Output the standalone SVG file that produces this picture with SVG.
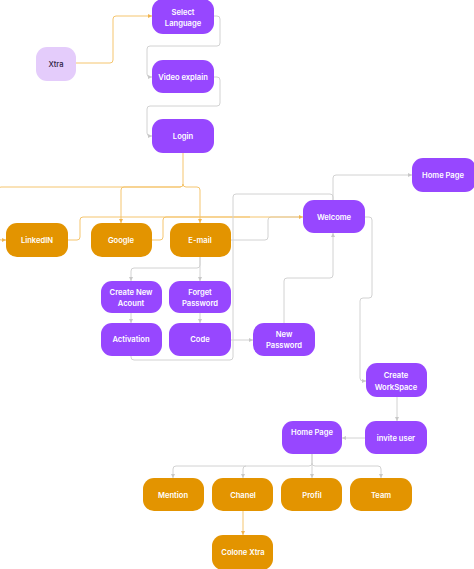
<svg xmlns="http://www.w3.org/2000/svg" width="474" height="569" viewBox="0 0 474 569">
<style>
.p{fill:#9747ff}
.o{fill:#e39400}
.l{fill:#e4ccfb}
.t{font-family:Inter,"Noto Sans",sans-serif;font-size:7.6px;font-weight:600;fill:#fff;text-anchor:middle;dominant-baseline:central}
.td{fill:#2a2040;font-weight:500}
.g{fill:none;stroke:#d2d2d2;stroke-width:1}
.y{fill:none;stroke:#f5c56e;stroke-width:1}
</style>
<defs>
<marker id="ag" markerWidth="5" markerHeight="5" refX="4" refY="2.5" orient="auto" markerUnits="userSpaceOnUse"><path d="M0,0.5 L4,2.5 L0,4.5z" fill="#c8c8c8"/></marker>
<marker id="ay" markerWidth="5" markerHeight="5" refX="4" refY="2.5" orient="auto" markerUnits="userSpaceOnUse"><path d="M0,0.5 L4,2.5 L0,4.5z" fill="#f0b450"/></marker>
</defs>
<rect width="474" height="569" fill="#fff"/>
<g id="connectors">
<path class="y" d="M76,63 H110 Q113,63 113,60 V19 Q113,16 116,16 H152" marker-end="url(#ay)"/>
<path class="g" d="M214,16 H217 Q220,16 220,19 V43 Q220,46 217,46 H150 Q147,46 147,49 V74 Q147,77 150,77 H152" marker-end="url(#ag)"/>
<path class="g" d="M214,77 H217 Q220,77 220,80 V103 Q220,106 217,106 H150 Q147,106 147,109 V133 Q147,136 150,136 H152" marker-end="url(#ag)"/>
<path class="y" d="M183,153 V184 Q183,187 180,187 H1 Q-3,187 -3,191 V236 Q-3,240 1,240 H6" marker-end="url(#ay)"/>
<path class="y" d="M183,184 Q183,187 180,187 H124 Q121,187 121,190 V223" marker-end="url(#ay)"/>
<path class="y" d="M183,184 Q183,187 186,187 H197 Q200,187 200,190 V223" marker-end="url(#ay)"/>
<path class="g" d="M231,240 H265 Q268,240 268,237 V220 Q268,217 271,217 H300"/>
<path class="y" d="M68,240 H77 Q80,240 80,237 V220 Q80,217 83,217 H303" marker-end="url(#ay)"/>
<path class="y" d="M152,240 H160 Q163,240 163,237 V220 Q163,217 166,217 H250"/>
<path class="g" d="M200,257 V265 Q200,268 197,268 H134 Q131,268 131,271 V281" marker-end="url(#ag)"/>
<path class="g" d="M200,257 V281" marker-end="url(#ag)"/>
<path class="g" d="M131,313 V323" marker-end="url(#ag)"/>
<path class="g" d="M200,313 V323" marker-end="url(#ag)"/>
<path class="g" d="M231,340 H253" marker-end="url(#ag)"/>
<path class="g" d="M131,356 V357 Q131,360 134,360 H230 Q233,360 233,357 V197 Q233,194 236,194 H330 Q333,194 333,197 V200"/>
<path class="g" d="M333,200 V178 Q333,175 336,175 H412" marker-end="url(#ag)"/>
<path class="g" d="M284,323 V281 Q284,278 287,278 H330 Q333,278 333,275 V233" marker-end="url(#ag)"/>
<path class="g" d="M365,217 H369 Q372,217 372,220 V295 Q372,298 369,298 H363 Q360,298 360,301 V378 Q360,381 363,381 H366" marker-end="url(#ag)"/>
<path class="g" d="M397,397 V421" marker-end="url(#ag)"/>
<path class="g" d="M365,438 H342" marker-end="url(#ag)"/>
<path class="g" d="M312,454 V463 Q312,466 309,466 H176 Q173,466 173,469 V478" marker-end="url(#ag)"/>
<path class="g" d="M312,463 Q312,466 315,466 H378 Q381,466 381,469 V478" marker-end="url(#ag)"/>
<path class="g" d="M246,466 Q243,466 243,469 V478" marker-end="url(#ag)"/>
<path class="g" d="M312,454 V478" marker-end="url(#ag)"/>
<path class="y" d="M243,511 V535" marker-end="url(#ay)"/>
</g>
<g id="n-select"><rect class="p" x="152" y="-1" width="62" height="35" rx="11"/><text class="t" x="183" y="12">Select</text><text class="t" x="183" y="23">Language</text></g>
<g id="n-xtra"><rect class="l" x="36" y="47" width="40" height="34" rx="11"/><text class="t td" x="56" y="64">Xtra</text></g>
<g id="n-video"><rect class="p" x="152" y="60" width="62" height="33" rx="11"/><text class="t" x="183" y="77">Video explain</text></g>
<g id="n-login"><rect class="p" x="152" y="119" width="62" height="34" rx="11"/><text class="t" x="183" y="136">Login</text></g>
<g id="n-home1"><rect class="p" x="412" y="158" width="64" height="34" rx="11"/><text class="t" x="443" y="175">Home Page</text></g>
<g id="n-welcome"><rect class="p" x="303" y="200" width="62" height="33" rx="11"/><text class="t" x="334" y="217">Welcome</text></g>
<g id="n-linkedin"><rect class="o" x="6" y="223" width="62" height="34" rx="11"/><text class="t" x="37" y="240">LinkedIN</text></g>
<g id="n-google"><rect class="o" x="91" y="223" width="61" height="34" rx="11"/><text class="t" x="121" y="240">Google</text></g>
<g id="n-email"><rect class="o" x="170" y="223" width="61" height="34" rx="11"/><text class="t" x="200" y="240">E-mail</text></g>
<g id="n-create"><rect class="p" x="101" y="281" width="61" height="32" rx="11"/><text class="t" x="131" y="292">Create New</text><text class="t" x="131" y="303">Acount</text></g>
<g id="n-forget"><rect class="p" x="169" y="281" width="62" height="32" rx="11"/><text class="t" x="200" y="292">Forget</text><text class="t" x="200" y="303">Password</text></g>
<g id="n-activation"><rect class="p" x="101" y="323" width="61" height="33" rx="11"/><text class="t" x="131" y="339.5">Activation</text></g>
<g id="n-code"><rect class="p" x="169" y="323" width="62" height="33" rx="11"/><text class="t" x="200" y="339.5">Code</text></g>
<g id="n-newpass"><rect class="p" x="253" y="323" width="62" height="33" rx="11"/><text class="t" x="284" y="334">New</text><text class="t" x="284" y="345">Password</text></g>
<g id="n-workspace"><rect class="p" x="366" y="363" width="61" height="34" rx="11"/><text class="t" x="396" y="375">Create</text><text class="t" x="396" y="387">WorkSpace</text></g>
<g id="n-home2"><rect class="p" x="282" y="421" width="60" height="33" rx="11"/><text class="t" x="312" y="432">Home Page</text></g>
<g id="n-invite"><rect class="p" x="365" y="421" width="62" height="33" rx="11"/><text class="t" x="396" y="438">invite user</text></g>
<g id="n-mention"><rect class="o" x="143" y="478" width="61" height="33" rx="11"/><text class="t" x="173" y="495">Mention</text></g>
<g id="n-chanel"><rect class="o" x="212" y="478" width="61" height="33" rx="11"/><text class="t" x="243" y="495">Chanel</text></g>
<g id="n-profil"><rect class="o" x="281" y="478" width="61" height="33" rx="11"/><text class="t" x="312" y="495">Profil</text></g>
<g id="n-team"><rect class="o" x="350" y="478" width="62" height="33" rx="11"/><text class="t" x="381" y="495">Team</text></g>
<g id="n-colone"><rect class="o" x="212" y="535" width="61" height="35" rx="11"/><text class="t" x="243" y="552">Colone Xtra</text></g>
</svg>
